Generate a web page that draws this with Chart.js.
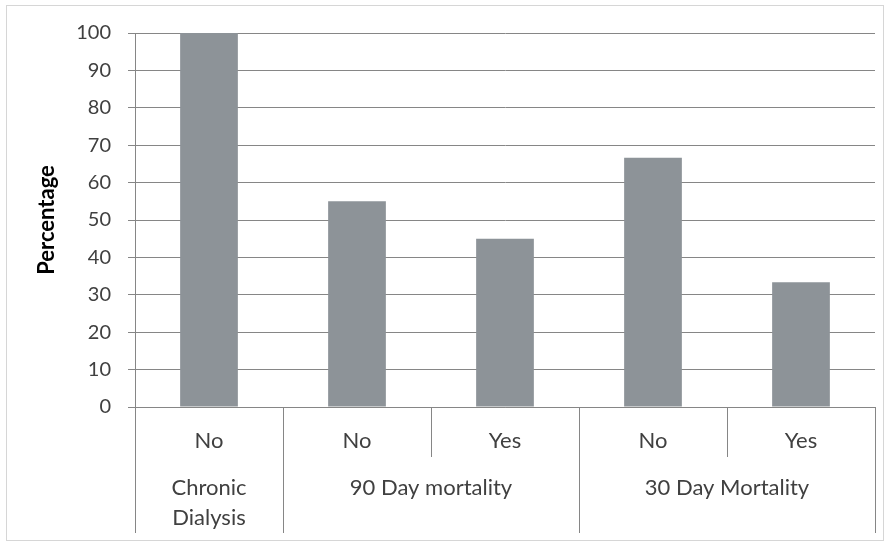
<!DOCTYPE html>
<html lang="en">
  <head>
    <meta charset="UTF-8" />
    <title>Percentage by outcome</title>
    <script src="https://cdn.jsdelivr.net/npm/chart.js"></script>
    <style>
      body { margin: 0; background: #fff; }
      #wrap { width: 890px; height: 546px; }
    </style>
  </head>
  <body>
    <div id="wrap"><canvas id="myCanvas" width="890" height="546"></canvas></div>
  </body>
</html>
<script>
  // categories: sub labels and their groups
  const subLabels = ["No", "No", "Yes", "No", "Yes"];
  const groupLabels = [["Chronic", "Dialysis"], ["90 Day mortality"], ["30 Day Mortality"]];
  const groupSizes = [1, 2, 2];
  const percentages = [100, 55, 45, 66.67, 33.33];
  const yTicks = [0, 10, 20, 30, 40, 50, 60, 70, 80, 90, 100];

  const fontFamily = "Lato, 'Open Sans', sans-serif";
  const textColor = "#404040";
  const gridColor = "#868686";

  // draws the frame and the two-level category axis
  const groupedAxis = {
    id: "groupedAxis",
    beforeDraw(chart) {
      const ctx = chart.ctx;
      ctx.save();
      ctx.strokeStyle = "#d6d6d6";
      ctx.lineWidth = 1;
      ctx.strokeRect(6.5, 5.5, 877, 535);
      ctx.restore();
    },
    afterDraw(chart) {
      const ctx = chart.ctx;
      const x = chart.scales.x;
      const area = chart.chartArea;
      const step = (x.right - x.left) / subLabels.length;
      const row1 = area.bottom + 34;
      const row2 = area.bottom + 81;
      ctx.save();
      ctx.fillStyle = textColor;
      ctx.font = "22px " + fontFamily;
      ctx.textAlign = "center";
      ctx.textBaseline = "middle";
      subLabels.forEach((lab, i) => {
        ctx.fillText(lab, x.getPixelForValue(i), row1);
      });

      ctx.strokeStyle = gridColor;
      ctx.lineWidth = 1;
      let idx = 0;
      const line = (px, y2) => {
        const xx = Math.round(px) + 0.5;
        ctx.beginPath();
        ctx.moveTo(xx, area.bottom);
        ctx.lineTo(xx, y2);
        ctx.stroke();
      };
      line(x.left, area.bottom + 126);
      groupSizes.forEach((n, g) => {
        const start = x.left + idx * step;
        const end = start + n * step;
        for (let k = 1; k < n; k++) line(start + k * step, area.bottom + 50);
        line(end, area.bottom + 126);
        const cx = (start + end) / 2;
        groupLabels[g].forEach((t, j) => ctx.fillText(t, cx, row2 + j * 30));
        idx += n;
      });
      ctx.restore();
    },
  };

  const config = {
    type: "bar",
    data: {
      labels: subLabels,
      datasets: [
        {
          label: "Percentage",
          data: percentages,
          backgroundColor: "#8d9398",
          borderWidth: 0,
          categoryPercentage: 1,
          barPercentage: 0.39,
        },
      ],
    },
    options: {
      responsive: false,
      animation: false,
      layout: { padding: { top: 33, right: 15, bottom: 0, left: 0 } },
      plugins: {
        legend: { display: false },
        tooltip: { enabled: false },
      },
      scales: {
        x: {
          ticks: { display: false },
          grid: { display: false },
          border: { display: true, color: gridColor },
          afterFit(scale) { scale.height = 139; },
        },
        y: {
          min: 0,
          max: 100,
          afterBuildTicks(scale) { scale.ticks = yTicks.map((v) => ({ value: v })); },
          afterFit(scale) { scale.width = 135; },
          ticks: {
            color: textColor,
            padding: 17,
            font: { family: fontFamily, size: 20 },
          },
          grid: { color: gridColor, tickLength: 7 },
          border: { display: true, color: gridColor },
          title: {
            display: true,
            text: "Percentage",
            color: "#000",
            font: { family: fontFamily, size: 22, weight: "bold" },
            padding: { top: 34, bottom: 0 },
          },
        },
      },
    },
    plugins: [groupedAxis],
  };

  const myChart = new Chart(document.getElementById("myCanvas"), config);
</script>
